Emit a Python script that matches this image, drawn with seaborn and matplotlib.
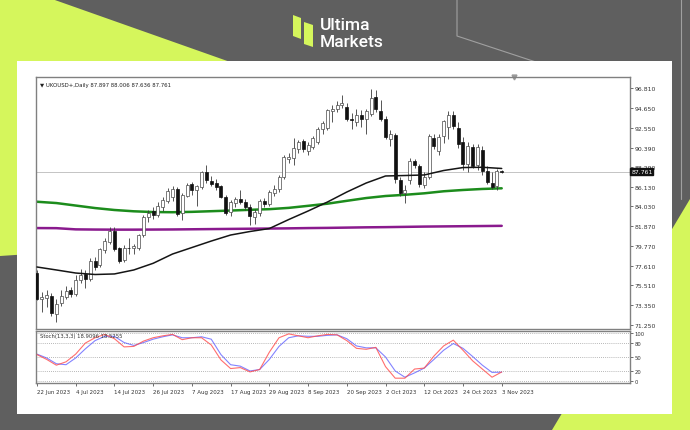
import matplotlib
matplotlib.use("Agg")
import matplotlib.pyplot as plt
import matplotlib.transforms as mtransforms
from matplotlib.patches import Polygon, Rectangle
import seaborn as sns

# ---- daily Brent (UKOUSD+) bars, 22 Jun 2023 .. 3 Nov 2023 ----
opens = [
    76.9, 74.1, 74.2, 74.4, 72.4, 73.6, 74.3, 75.0, 74.6, 76.1,
    76.7, 76.2, 78.2, 77.7, 79.3, 80.2, 81.4, 79.5, 78.3, 79.6,
    79.5, 79.6, 80.9, 82.9, 83.5, 83.1, 84.0, 84.6, 85.1, 85.9,
    83.3, 85.2, 86.5, 85.8, 86.1, 87.8, 86.8, 86.6, 86.2, 85.0,
    83.4, 84.4, 84.8, 84.5, 84.0, 82.9, 83.3, 84.6, 84.3, 85.5,
    85.9, 87.2, 89.1, 89.3, 90.2, 91.1, 90.0, 90.5, 91.0, 92.4,
    92.5, 94.3, 94.5, 95.0, 94.8, 93.5, 93.1, 93.9, 93.5, 94.0,
    95.8, 94.3, 93.5, 91.3, 91.7, 86.9, 85.5, 86.9, 88.9, 88.4,
    86.4, 87.2, 91.4, 90.0, 91.6, 92.6, 93.9, 92.5, 91.0, 88.6,
    90.4, 88.5, 90.1, 87.9, 86.6, 86.2, 87.897]
highs = [
    77.2, 74.8, 75.0, 74.7, 74.0, 75.0, 75.4, 75.3, 76.6, 77.3,
    77.2, 78.5, 78.6, 79.6, 80.6, 81.8, 81.8, 79.7, 79.9, 80.6,
    80.0, 81.1, 83.1, 83.6, 84.0, 84.5, 85.1, 86.0, 86.2, 86.1,
    85.5, 86.6, 86.7, 86.4, 87.9, 88.5, 87.3, 87.0, 86.4, 85.3,
    84.7, 85.1, 85.8, 84.8, 84.3, 83.8, 84.8, 84.9, 85.8, 86.3,
    87.4, 89.6, 89.8, 91.4, 91.2, 91.3, 91.0, 91.6, 92.6, 93.3,
    94.6, 95.0, 95.4, 96.1, 95.2, 94.1, 94.6, 94.4, 94.5, 96.7,
    96.6, 95.5, 93.8, 92.3, 92.0, 87.2, 86.4, 89.3, 89.2, 88.6,
    87.7, 91.9, 91.9, 91.8, 93.4, 94.3, 94.3, 93.1, 91.5, 91.0,
    90.8, 90.8, 90.6, 88.4, 87.7, 88.1, 88.006]
lows = [
    73.9, 72.6, 73.2, 72.2, 71.6, 73.3, 74.0, 74.3, 74.4, 75.8,
    75.2, 76.0, 77.2, 77.5, 79.0, 80.0, 79.2, 77.9, 78.0, 78.9,
    78.9, 79.3, 80.7, 82.4, 82.7, 82.9, 83.5, 84.4, 84.6, 83.0,
    82.6, 85.0, 85.3, 84.1, 85.9, 86.6, 86.2, 85.8, 84.9, 83.1,
    83.0, 84.0, 84.3, 83.7, 82.0, 82.1, 83.0, 84.0, 84.1, 85.2,
    85.6, 87.0, 88.7, 88.5, 89.8, 89.9, 89.6, 90.2, 90.8, 91.8,
    92.3, 93.1, 94.2, 94.7, 93.2, 92.4, 92.7, 92.6, 91.9, 93.8,
    94.2, 93.3, 91.3, 90.6, 86.6, 85.2, 84.4, 86.5, 88.2, 86.1,
    86.0, 87.0, 90.2, 89.6, 90.9, 91.3, 92.4, 90.3, 88.0, 87.8,
    88.2, 88.0, 87.4, 86.5, 85.9, 85.8, 87.636]
closes = [
    74.1, 74.3, 74.5, 72.5, 73.5, 74.4, 74.9, 74.6, 76.1, 76.6,
    76.2, 78.2, 77.5, 79.4, 80.3, 81.4, 79.4, 78.2, 79.6, 79.5,
    79.8, 80.9, 82.9, 83.3, 83.1, 84.1, 84.7, 85.7, 85.9, 83.2,
    85.3, 86.3, 85.8, 86.2, 87.7, 86.9, 86.5, 86.1, 85.1, 83.3,
    84.5, 84.8, 84.5, 84.0, 83.0, 83.4, 84.6, 84.3, 85.6, 85.9,
    87.2, 89.4, 89.4, 90.3, 91.0, 90.2, 90.7, 91.4, 92.4, 93.0,
    94.4, 94.6, 95.0, 95.2, 93.5, 93.4, 93.9, 93.5, 94.3, 95.7,
    94.5, 93.5, 91.5, 91.9, 87.0, 85.5, 85.8, 88.9, 88.5, 86.5,
    87.2, 91.6, 90.6, 91.5, 93.2, 93.9, 92.7, 90.8, 88.6, 90.6,
    88.4, 90.4, 87.9, 86.7, 86.1, 87.9, 87.761]

# moving averages, sampled every 4th bar
ma_black = [77.50, 77.18, 76.85, 76.69, 76.75, 77.18, 77.90, 78.90, 79.60,
            80.30, 80.95, 81.33, 81.65, 82.62, 83.54, 84.51, 85.59, 86.56,
            87.32, 87.37, 87.43, 87.91, 88.23, 88.26, 88.13]
ma_green = [84.54, 84.40, 84.13, 83.86, 83.65, 83.51, 83.43, 83.41, 83.45,
            83.52, 83.59, 83.67, 83.74, 83.88, 84.10, 84.33, 84.64, 84.94,
            85.16, 85.29, 85.45, 85.67, 85.81, 85.92, 85.99]
ma_purple = [81.70, 81.69, 81.56, 81.54, 81.53, 81.53, 81.54, 81.55, 81.57,
             81.59, 81.61, 81.63, 81.65, 81.67, 81.70, 81.72, 81.75, 81.78,
             81.80, 81.83, 81.86, 81.88, 81.90, 81.92, 81.94]

# Stochastic(13,3,3), sampled every 2nd bar
stoch_main = [55, 45, 33, 40, 56, 79, 90, 97, 88, 71, 72, 83, 90, 94, 97, 86,
              90, 90, 75, 44, 26, 28, 19, 24, 60, 90, 98, 94, 90, 94, 97, 96,
              84, 68, 66, 70, 30, 6, 6, 25, 27, 52, 73, 85, 64, 42, 25, 8, 18.9096]
stoch_signal = [56, 48, 36, 34, 48, 67, 84, 93, 93, 80, 74, 80, 87, 92, 96, 90,
                90, 92, 87, 55, 34, 31, 21, 24, 45, 72, 90, 94, 93, 93, 95, 96,
                88, 73, 69, 69, 50, 21, 8, 17, 27, 45, 64, 78, 68, 51, 33, 18, 18.5255]

price_ticks = [96.810, 94.650, 92.550, 90.390, 88.290, 86.130, 84.030,
               81.870, 79.770, 77.610, 75.510, 73.350, 71.250]
date_labels = ["22 Jun 2023", "4 Jul 2023", "14 Jul 2023", "26 Jul 2023",
               "7 Aug 2023", "17 Aug 2023", "29 Aug 2023", "8 Sep 2023",
               "20 Sep 2023", "2 Oct 2023", "12 Oct 2023", "24 Oct 2023",
               "3 Nov 2023"]
stoch_levels = [100, 80, 50, 20, 0]

n_bars = len(closes)
bars = list(range(n_bars))
ma_bars = list(range(0, n_bars, 4))
stoch_bars = list(range(0, n_bars, 2))
date_bars = list(range(0, n_bars, 8))

sns.set_theme(style="white")
plt.rcParams["font.family"] = ["DejaVu Sans"]

W, H = 690, 431
fig = plt.figure(figsize=(W / 100, H / 100), dpi=100)
fig.patch.set_facecolor("#5f5f5f")

# ---------- branded backdrop ----------
bg = fig.add_axes([0, 0, 1, 1])
bg.set_xlim(0, W)
bg.set_ylim(H, 0)
bg.axis("off")
lime = "#d5f65c"
bg.add_patch(Rectangle((0, 0), W, H, color="#5f5f5f", zorder=0))
bg.add_patch(Polygon([(0, 0), (52, 0), (250, 70), (30, 255), (0, 257)],
                     closed=True, color=lime, zorder=1, lw=0))
bg.add_patch(Polygon([(W, 200), (W, H), (552, H)], closed=True, color=lime,
                     zorder=1, lw=0))
bg.plot([457, 457, 545], [0, 37, 66], color="#a0a0a0", lw=0.8, zorder=1)
bg.plot([681, 681], [0, 200], color="#a0a0a0", lw=0.8, zorder=1)
bg.add_patch(Rectangle((17, 62), 655, 353, color="white", zorder=2, lw=0))
# logo mark
bg.add_patch(Polygon([(293, 16), (301, 19), (301, 40), (293, 37)],
                     closed=True, color=lime, zorder=3, lw=0))
bg.add_patch(Polygon([(304, 23), (313, 26), (313, 48), (304, 45)],
                     closed=True, color=lime, zorder=3, lw=0))
bg.text(320, 30, "Ultima", color="white", fontsize=12.5, family="Roboto",
        fontweight="medium", va="baseline", ha="left", zorder=3)
bg.text(320, 47, "Markets", color="white", fontsize=12.5, family="Roboto",
        fontweight="medium", va="baseline", ha="left", zorder=3)

# ---------- price panel ----------
def frac(x0, y0, x1, y1):
    return [x0 / W, 1 - y1 / H, (x1 - x0) / W, (y1 - y0) / H]

ax = fig.add_axes(frac(36, 78, 630, 330))
ax2 = fig.add_axes(frac(36, 332, 630, 384))

up_face, up_edge, dn_col = "white", "#4a4a4a", "#111111"
ax.vlines(bars, lows, highs, color="#3a3a3a", lw=0.6, zorder=3)
bottoms = [min(o, c) for o, c in zip(opens, closes)]
heights = [max(abs(c - o), 0.08) for o, c in zip(opens, closes)]
faces = [up_face if c >= o else dn_col for o, c in zip(opens, closes)]
edges = [up_edge if c >= o else dn_col for o, c in zip(opens, closes)]
ax.bar(bars, heights, bottom=bottoms, width=0.62, color=faces,
       edgecolor=edges, linewidth=0.5, zorder=4)

sns.lineplot(x=ma_bars, y=ma_purple, ax=ax, color="#8a1a8e", lw=1.8, zorder=2)
sns.lineplot(x=ma_bars, y=ma_green, ax=ax, color="#1c8c1c", lw=1.8, zorder=2)
sns.lineplot(x=ma_bars, y=ma_black, ax=ax, color="#151515", lw=1.1, zorder=5)

last_close = closes[-1]
ax.axhline(last_close, color="#c4c4c4", lw=0.7, zorder=1)

ax.set_xlim(-0.2, 122.5)
ax.set_ylim(70.81, 98.0)
ax.set_xticks([])
ax.yaxis.tick_right()
ax.set_yticks(price_ticks)
ax.set_yticklabels([f"{v:.3f}" for v in price_ticks])
ax.tick_params(axis="y", labelsize=4.4, length=2, width=0.5, pad=1,
               colors="#333333", right=True)
ax.set_xlabel("")
ax.set_ylabel("")
for s in ax.spines.values():
    s.set_color("#808080")
    s.set_linewidth(1.0)

ax.text(0.006, 0.982,
        f"\u25BC UKOUSD+,Daily {opens[-1]:.3f} {highs[-1]:.3f} {lows[-1]:.3f} {last_close:.3f}",
        transform=ax.transAxes, fontsize=3.9, color="#222222",
        va="top", ha="left")
ytrans = mtransforms.blended_transform_factory(ax.transAxes, ax.transData)
ax.text(1.002, last_close, f"{last_close:.3f}", transform=ytrans,
        fontsize=4.4, color="white", va="center", ha="left", zorder=6,
        bbox=dict(boxstyle="square,pad=0.15", fc="#111111", ec="#111111"))
ax.plot([0.805], [1.0], marker="v", ms=3.5, color="#9a9a9a",
        transform=ax.transAxes, clip_on=False)

# ---------- stochastic panel ----------
for v in stoch_levels:
    ax2.axhline(v, color="#a0a0a0", lw=0.6, ls=(0, (1, 1.5)), zorder=1)
sns.lineplot(x=stoch_bars, y=stoch_main, ax=ax2, color="#ff4a4a", lw=0.8,
             alpha=0.8, zorder=3)
sns.lineplot(x=stoch_bars, y=stoch_signal, ax=ax2, color="#5a5aff", lw=0.8,
             alpha=0.75, zorder=2)
ax2.set_xlim(-0.2, 122.5)
ax2.set_ylim(-4, 104)
ax2.yaxis.tick_right()
ax2.set_yticks(stoch_levels)
ax2.set_yticklabels([str(v) for v in stoch_levels])
ax2.tick_params(axis="y", labelsize=3.8, length=2, width=0.5, pad=1,
                colors="#333333", right=True)
ax2.set_xticks(date_bars)
ax2.set_xticklabels(date_labels, ha="left")
ax2.tick_params(axis="x", labelsize=4.0, length=2.5, width=0.5, pad=1.5,
                colors="#333333", bottom=True)
ax2.set_xlabel("")
ax2.set_ylabel("")
for s in ax2.spines.values():
    s.set_color("#808080")
    s.set_linewidth(1.0)
ax2.text(0.006, 0.96,
         f"Stoch(13,3,3) {stoch_main[-1]:.4f} {stoch_signal[-1]:.4f}",
         transform=ax2.transAxes, fontsize=3.8, color="#333333",
         va="top", ha="left")

fig.savefig("out.png", dpi=100, facecolor=fig.get_facecolor())
